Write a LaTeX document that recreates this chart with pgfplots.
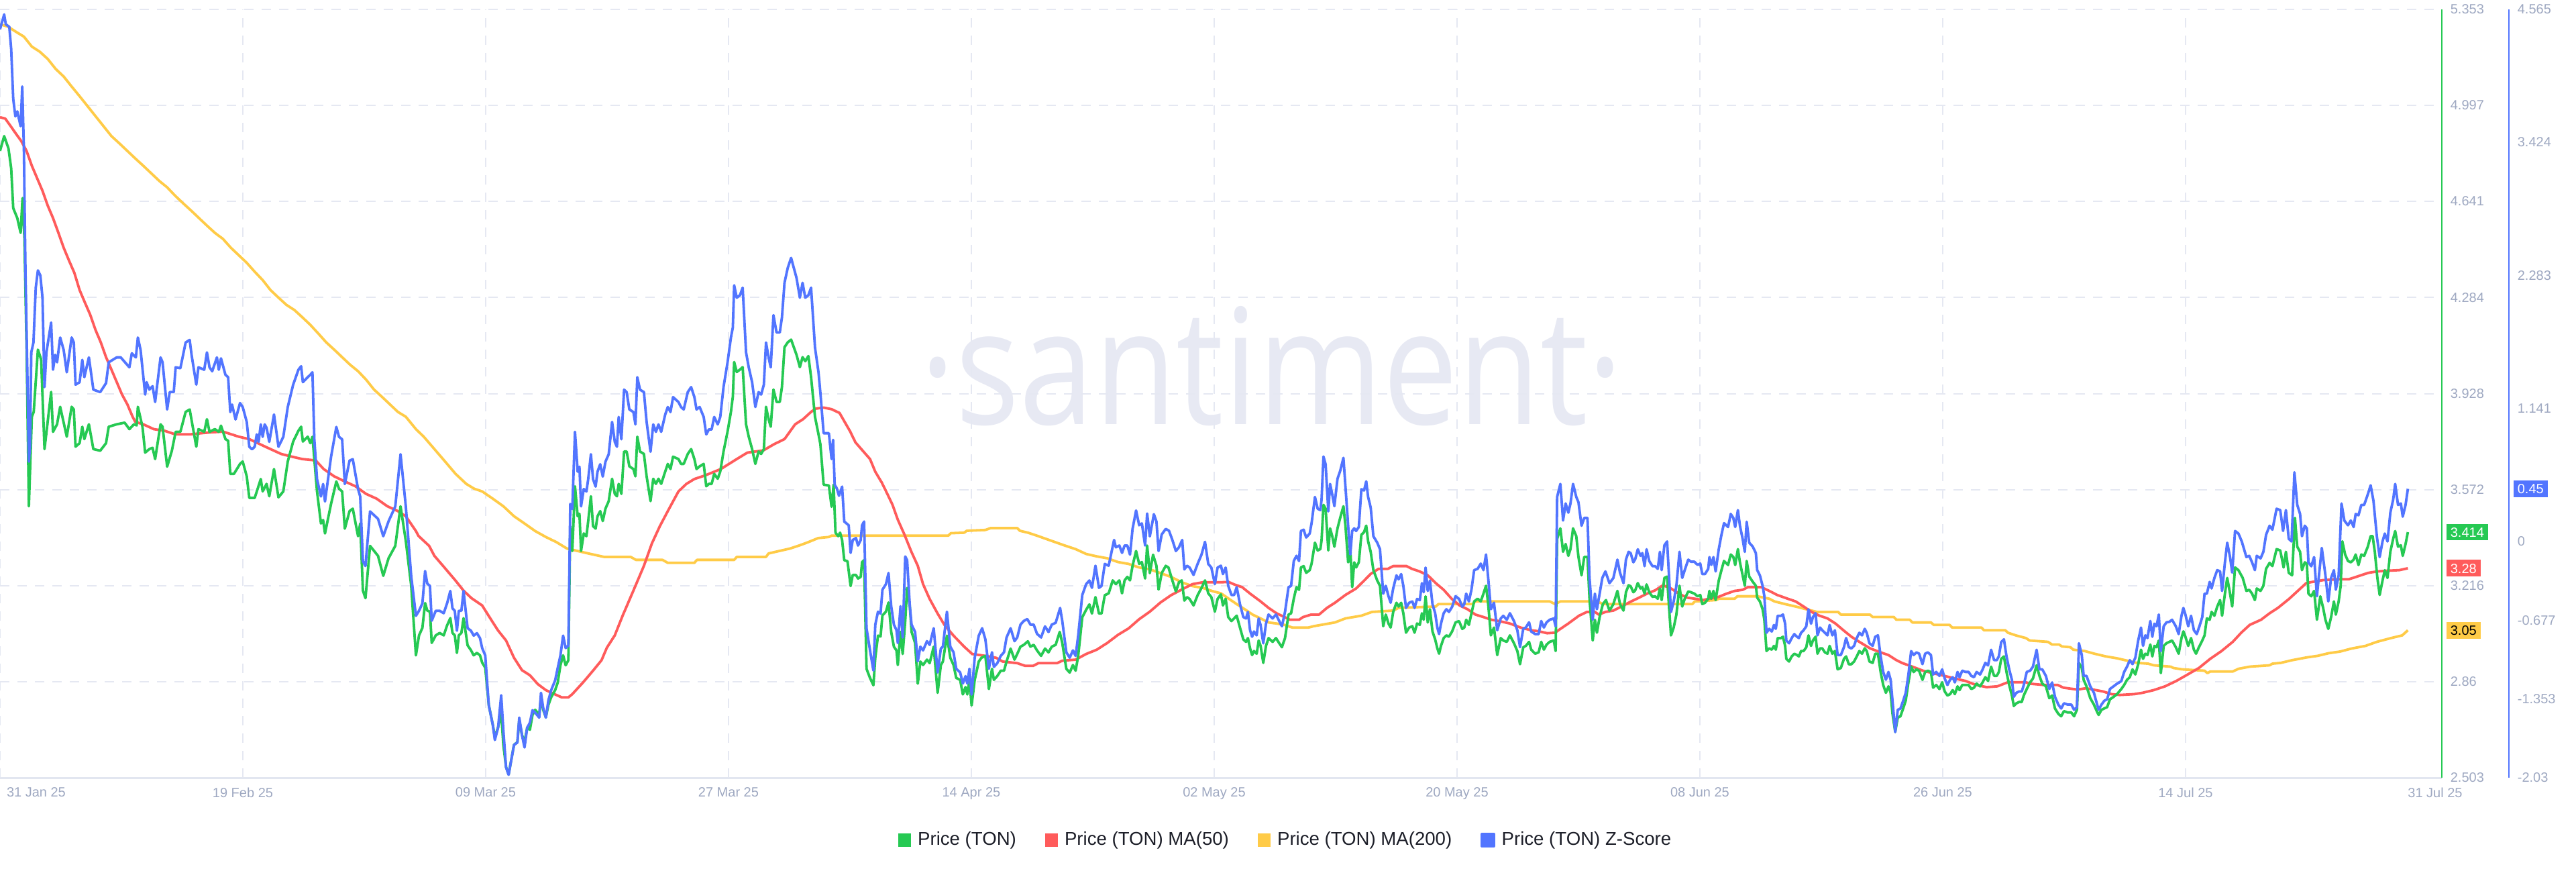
\documentclass[border=0pt]{standalone}
\usepackage{fontspec}
\setmainfont{Liberation Sans}
\newfontfamily\wmfont{Open Sans}
\usepackage{graphicx}
\usepackage{pgfplots}
\pgfplotsset{compat=1.18}
\definecolor{pgreen}{RGB}{38,201,83}
\definecolor{pred}{RGB}{255,91,91}
\definecolor{pyellow}{RGB}{255,203,71}
\definecolor{pblue}{RGB}{82,117,255}
\definecolor{tickgray}{RGB}{158,168,193}
\definecolor{gridgray}{RGB}{229,232,242}
\definecolor{axisgray}{RGB}{226,230,240}
\definecolor{wm}{RGB}{231,233,243}
\definecolor{legtext}{RGB}{28,30,40}
\newcommand\tickfont{\fontsize{5}{6}\selectfont}
\newcommand\legfont{\fontsize{6.9}{8}\selectfont}

\pgfplotstableread{
x y
0 4.828
0.31 4.883
0.63 4.837
0.83 4.763
0.98 4.616
1.28 4.579
1.53 4.524
1.67 4.653
1.81 4.505
1.97 4.100
2.14 3.510
2.36 3.842
2.50 3.860
2.81 4.091
3.05 4.054
3.30 3.722
3.79 3.934
3.93 3.786
4.23 3.814
4.46 3.879
4.95 3.768
5.31 3.879
5.47 3.869
5.60 3.731
5.90 3.744
6.10 3.805
6.25 3.759
6.59 3.814
6.92 3.722
7.43 3.716
7.86 3.744
8.06 3.805
8.65 3.814
9.24 3.820
9.59 3.796
9.93 3.814
10.13 3.810
10.22 3.879
10.56 3.805
10.76 3.709
11.07 3.722
11.31 3.727
11.50 3.685
11.90 3.814
12.05 3.805
12.39 3.657
12.74 3.716
13.02 3.786
13.37 3.786
13.76 3.860
14.06 3.869
14.55 3.731
14.71 3.796
15.14 3.786
15.34 3.833
15.53 3.786
15.93 3.796
16.22 3.786
16.38 3.809
16.71 3.759
16.91 3.753
17.07 3.630
17.34 3.630
17.79 3.667
17.99 3.676
18.29 3.621
18.48 3.541
18.88 3.541
19.33 3.611
19.47 3.565
19.76 3.593
19.96 3.547
20.31 3.648
20.64 3.543
21.00 3.565
21.33 3.676
21.73 3.750
22.12 3.790
22.32 3.805
22.45 3.750
22.81 3.768
23.00 3.744
23.16 3.768
23.50 3.565
23.79 3.446
23.95 3.459
24.09 3.409
24.54 3.519
24.93 3.602
25.13 3.575
25.36 3.565
25.56 3.427
25.91 3.492
26.15 3.501
26.54 3.399
26.70 3.446
26.90 3.197
27.09 3.169
27.43 3.363
28.02 3.326
28.41 3.252
28.80 3.317
29.30 3.363
29.69 3.510
30.08 3.381
30.48 3.215
30.83 2.957
31.06 3.031
31.31 3.059
31.51 3.151
31.67 3.123
31.87 3.119
32.00 3.003
32.30 3.031
32.59 3.040
32.89 3.031
33.14 3.068
33.38 3.095
33.54 3.040
33.71 3.031
33.87 2.966
34.01 3.031
34.20 3.040
34.36 3.095
34.66 2.994
34.91 2.976
35.11 2.957
35.35 2.966
35.58 2.957
35.74 2.930
35.97 2.911
36.23 2.773
36.53 2.699
36.68 2.653
36.92 2.690
37.15 2.745
37.31 2.625
37.51 2.543
37.70 2.515
37.90 2.570
38.10 2.625
38.35 2.635
38.49 2.718
38.69 2.662
38.88 2.635
39.08 2.690
39.28 2.681
39.47 2.736
39.67 2.755
39.97 2.736
40.10 2.801
40.26 2.755
40.46 2.727
40.65 2.773
40.85 2.801
41.15 2.828
41.34 2.856
41.54 2.920
41.74 2.957
41.93 2.920
42.13 2.939
42.27 3.436
42.42 3.344
42.62 3.584
42.82 3.473
42.95 3.482
43.07 3.344
43.27 3.409
43.47 3.399
43.60 3.455
43.80 3.547
43.96 3.436
44.15 3.427
44.29 3.473
44.49 3.492
44.68 3.455
44.88 3.501
45.12 3.529
45.37 3.612
45.57 3.556
45.73 3.547
45.86 3.593
46.06 3.556
46.26 3.713
46.45 3.713
46.65 3.658
46.95 3.648
47.10 3.621
47.24 3.768
47.44 3.713
47.73 3.704
47.93 3.621
48.22 3.529
48.42 3.612
48.62 3.593
48.81 3.612
49.01 3.593
49.31 3.639
49.50 3.667
49.70 3.648
49.89 3.694
50.29 3.685
50.48 3.667
50.68 3.667
50.98 3.704
51.23 3.722
51.47 3.685
51.63 3.648
51.86 3.658
52.16 3.667
52.35 3.584
52.55 3.593
52.75 3.593
52.94 3.630
53.20 3.612
53.39 3.639
53.63 3.713
53.93 3.787
54.18 3.860
54.32 3.916
54.42 4.045
54.61 4.008
54.85 4.017
55.05 4.026
55.30 3.814
55.50 3.768
55.75 3.722
55.99 3.667
56.23 3.713
56.42 3.704
56.62 3.722
56.78 3.879
56.97 3.833
57.13 3.805
57.33 3.943
57.56 3.897
57.80 3.897
57.96 3.952
58.15 4.100
58.39 4.118
58.64 4.128
58.84 4.100
59.04 4.072
59.29 4.026
59.49 4.063
59.69 4.048
59.92 4.067
60.12 3.989
60.41 3.842
60.67 3.777
60.81 3.740
61.05 3.590
61.44 3.587
61.64 3.508
61.79 3.590
61.93 3.412
62.13 3.399
62.27 3.412
62.42 3.385
62.58 3.310
62.82 3.306
63.05 3.214
63.21 3.255
63.45 3.255
63.60 3.242
63.80 3.248
63.90 3.303
64.05 3.310
64.23 2.907
64.49 2.873
64.74 2.846
64.88 2.948
65.08 3.030
65.27 3.027
65.41 3.105
65.67 3.119
65.86 3.153
66.06 3.044
66.26 2.989
66.45 2.975
66.55 2.921
66.75 3.044
66.91 2.962
67.10 3.085
67.24 3.207
67.44 3.139
67.57 3.044
67.83 3.003
68.03 2.852
68.22 2.934
68.42 2.921
68.71 2.941
68.91 2.928
69.21 2.989
69.50 2.818
69.74 2.921
69.89 2.934
70.19 3.030
70.44 2.948
70.68 2.921
70.88 2.873
71.17 2.866
71.37 2.812
71.57 2.839
71.70 2.812
71.86 2.866
72.02 2.771
72.25 2.866
72.55 2.934
72.75 2.948
73.04 2.955
73.30 2.832
73.53 2.907
73.67 2.866
73.92 2.880
74.18 2.900
74.42 2.900
74.61 2.934
74.91 2.982
75.20 2.941
75.40 2.962
75.64 2.989
75.89 2.996
76.19 3.009
76.38 2.989
76.62 2.996
76.87 2.975
77.17 2.955
77.46 2.982
77.72 2.968
77.96 2.989
78.25 2.996
78.55 3.044
78.74 3.003
79.04 2.907
79.29 2.893
79.53 2.921
79.73 2.900
79.92 2.955
80.22 3.098
80.51 3.126
80.75 3.146
80.94 3.112
81.20 3.173
81.46 3.112
81.65 3.112
81.89 3.180
82.18 3.187
82.48 3.235
82.71 3.221
82.97 3.235
83.17 3.187
83.36 3.235
83.56 3.248
83.76 3.235
83.95 3.289
84.21 3.344
84.44 3.296
84.64 3.303
84.88 3.242
85.03 3.364
85.23 3.262
85.47 3.330
85.72 3.289
85.88 3.201
86.11 3.262
86.41 3.289
86.61 3.283
86.90 3.235
87.16 3.194
87.39 3.228
87.59 3.235
87.79 3.160
87.98 3.173
88.18 3.166
88.47 3.142
88.77 3.180
89.06 3.207
89.32 3.235
89.56 3.187
89.79 3.173
90.05 3.119
90.25 3.166
90.50 3.183
90.65 3.142
90.85 3.167
91.04 3.099
91.28 3.084
91.67 3.104
91.91 3.060
92.16 3.016
92.36 3.007
92.50 3.021
92.66 2.983
92.81 2.958
92.95 2.973
93.15 2.963
93.30 3.012
93.44 2.992
93.64 2.929
93.84 2.992
94.03 3.021
94.33 3.007
94.58 3.021
94.82 3.002
95.02 2.987
95.25 3.021
95.51 3.108
95.70 3.113
95.90 3.167
96.10 3.210
96.29 3.200
96.43 3.283
96.63 3.288
96.82 3.263
97.08 3.273
97.22 3.297
97.47 3.375
97.67 3.346
97.87 3.351
97.96 3.384
98.10 3.515
98.26 3.501
98.46 3.346
98.59 3.428
98.75 3.399
98.91 3.360
99.14 3.428
99.34 3.467
99.58 3.510
99.73 3.438
99.93 3.302
100.09 3.351
100.23 3.210
100.38 3.302
100.52 3.283
100.72 3.302
100.91 3.404
101.11 3.414
101.27 3.438
101.41 3.380
101.60 3.341
101.80 3.273
102.09 3.234
102.29 3.215
102.53 3.065
102.72 3.108
102.92 3.075
103.08 3.060
103.27 3.118
103.51 3.152
103.67 3.138
103.86 3.152
104.02 3.113
104.22 3.041
104.45 3.060
104.69 3.065
104.85 3.041
105.04 3.075
105.24 3.070
105.40 3.113
105.53 3.089
105.67 3.176
105.83 3.079
105.99 3.128
106.18 3.046
106.38 3.016
106.54 2.983
106.67 2.963
106.81 2.992
107.01 3.021
107.21 3.031
107.40 3.026
107.64 3.046
107.89 3.079
108.15 3.084
108.39 3.055
108.54 3.060
108.68 3.089
108.88 3.070
109.07 3.113
109.27 3.157
109.53 3.167
109.76 3.157
109.96 3.186
110.15 3.215
110.31 3.147
110.51 3.031
110.74 3.060
110.98 2.958
111.24 3.021
111.43 3.012
111.69 3.007
111.92 3.031
112.22 3.002
112.47 2.973
112.67 2.924
112.91 2.987
113.10 2.992
113.34 3.007
113.50 2.978
113.79 2.963
114.05 2.968
114.24 3.007
114.44 2.978
114.64 2.997
114.87 3.007
115.17 3.012
115.31 2.973
115.42 3.389
115.66 3.428
115.86 3.341
116.05 3.370
116.25 3.326
116.41 3.351
116.60 3.428
116.84 3.399
117.00 3.322
117.23 3.254
117.43 3.322
117.67 3.322
117.82 3.167
118.06 3.012
118.22 3.089
118.37 3.041
118.57 3.099
118.81 3.147
119.04 3.162
119.30 3.123
119.59 3.147
119.89 3.196
120.08 3.147
120.34 3.123
120.52 3.191
120.72 3.217
120.87 3.213
121.07 3.191
121.21 3.198
121.40 3.225
121.60 3.205
121.74 3.210
121.90 3.186
122.05 3.220
122.25 3.191
122.49 3.174
122.68 3.176
122.88 3.167
123.04 3.205
123.17 3.162
123.37 3.244
123.57 3.249
123.70 3.147
123.86 3.031
124.06 3.060
124.26 3.108
124.49 3.215
124.69 3.138
124.88 3.167
125.14 3.194
125.34 3.191
125.59 3.186
125.83 3.176
126.03 3.181
126.18 3.147
126.38 3.152
126.62 3.167
126.71 3.196
126.85 3.167
127.01 3.196
127.17 3.162
127.40 3.234
127.60 3.273
127.79 3.307
128.09 3.292
128.29 3.331
128.48 3.322
128.62 3.292
128.82 3.351
128.97 3.302
129.17 3.254
129.33 3.215
129.47 3.307
129.66 3.249
129.92 3.230
130.15 3.215
130.25 3.171
130.45 3.157
130.65 3.128
130.78 3.089
130.94 2.973
131.14 2.983
131.33 2.978
131.49 2.992
131.63 2.978
131.77 3.021
132.02 3.021
132.16 3.026
132.32 2.992
132.41 2.944
132.61 2.934
132.81 2.953
133.00 2.963
133.20 2.958
133.34 2.953
133.50 2.973
133.69 2.973
133.89 2.987
134.05 3.031
134.24 2.992
134.38 3.012
134.58 3.026
134.72 2.963
134.91 2.983
135.07 2.983
135.27 2.968
135.46 2.963
135.62 2.992
135.82 2.963
136.01 2.973
136.21 2.905
136.45 2.910
136.68 2.944
136.84 2.953
137.04 2.924
137.23 2.924
137.43 2.934
137.63 2.953
137.82 2.973
138.02 2.963
138.22 2.983
138.37 2.973
138.57 2.934
138.81 2.929
139.00 2.963
139.20 2.963
139.40 2.895
139.59 2.847
139.79 2.818
139.98 2.842
140.14 2.818
140.28 2.740
140.48 2.673
140.67 2.726
140.87 2.731
141.07 2.760
141.26 2.789
141.46 2.857
141.66 2.915
141.85 2.895
142.05 2.905
142.25 2.900
142.50 2.866
142.70 2.895
142.90 2.900
143.13 2.895
143.29 2.837
143.52 2.847
143.76 2.832
143.96 2.857
144.15 2.823
144.35 2.808
144.55 2.813
144.74 2.828
144.90 2.813
145.10 2.842
145.25 2.828
145.45 2.847
145.69 2.847
145.92 2.847
146.12 2.832
146.32 2.837
146.51 2.852
146.77 2.842
146.96 2.857
147.16 2.876
147.36 2.862
147.59 2.915
147.81 2.881
148.01 2.881
148.16 2.895
148.34 2.944
148.54 2.953
148.73 2.895
148.93 2.847
149.13 2.808
149.27 2.769
149.46 2.779
149.66 2.784
149.86 2.784
150.01 2.808
150.23 2.832
150.48 2.857
150.69 2.871
150.96 2.920
151.17 2.881
151.38 2.852
151.65 2.842
151.90 2.798
152.11 2.808
152.32 2.760
152.57 2.740
152.78 2.731
152.99 2.750
153.26 2.745
153.53 2.745
153.74 2.731
153.95 2.755
154.10 2.929
154.31 2.910
154.45 2.866
154.66 2.842
154.94 2.798
155.21 2.774
155.42 2.750
155.56 2.736
155.77 2.755
155.98 2.760
156.19 2.765
156.40 2.794
156.67 2.803
156.92 2.813
157.24 2.832
157.45 2.847
157.66 2.866
157.87 2.876
158.07 2.905
158.28 2.886
158.49 2.924
158.70 2.978
158.85 2.944
159.02 2.963
159.18 2.958
159.39 2.997
159.54 2.953
159.69 2.992
159.85 2.987
160.02 3.012
160.17 2.891
160.38 2.992
160.59 3.002
160.80 3.007
161.00 3.012
161.28 2.987
161.49 2.963
161.70 3.021
161.84 3.046
161.99 3.026
162.20 2.992
162.41 3.021
162.62 2.978
162.78 2.963
162.99 2.987
163.24 3.012
163.41 3.031
163.58 3.094
163.79 3.089
163.93 3.118
164.14 3.104
164.35 3.138
164.56 3.162
164.71 3.104
164.92 3.186
165.09 3.244
165.30 3.186
165.46 3.138
165.67 3.283
165.92 3.273
166.24 3.244
166.51 3.196
166.72 3.200
166.93 3.186
167.14 3.162
167.28 3.205
167.56 3.196
167.77 3.215
167.97 3.278
168.23 3.300
168.44 3.288
168.75 3.351
169.02 3.346
169.27 3.283
169.44 3.341
169.65 3.263
169.90 3.254
170.11 3.467
170.28 3.360
170.49 3.341
170.63 3.273
170.84 3.302
170.99 3.297
171.11 3.186
171.32 3.176
171.53 3.196
171.74 3.089
171.99 3.176
172.20 3.133
172.37 3.089
172.58 3.055
172.79 3.099
173.00 3.157
173.14 3.108
173.35 3.157
173.50 3.215
173.62 3.380
173.83 3.331
174.04 3.307
174.25 3.302
174.46 3.312
174.61 3.331
174.82 3.292
175.03 3.331
175.24 3.326
175.51 3.360
175.72 3.399
175.87 3.399
176.03 3.341
176.22 3.244
176.39 3.181
176.60 3.234
176.77 3.273
176.97 3.244
177.18 3.341
177.39 3.389
177.54 3.418
177.75 3.360
177.96 3.365
178.10 3.326
178.31 3.370
178.48 3.414
}\price

\pgfplotstableread{
x y
0 4.953
0.39 4.948
0.79 4.920
1.18 4.892
1.57 4.865
1.97 4.828
2.36 4.773
2.75 4.727
3.15 4.680
3.54 4.625
3.93 4.579
4.33 4.524
4.72 4.469
5.11 4.422
5.51 4.376
5.90 4.312
6.29 4.266
6.69 4.220
7.08 4.164
7.47 4.118
7.86 4.063
8.26 4.017
8.65 3.971
9.04 3.925
9.44 3.888
9.83 3.842
10.03 3.823
10.62 3.814
11.01 3.805
11.40 3.796
12.19 3.790
12.98 3.777
14.16 3.777
15.34 3.783
16.52 3.787
17.70 3.768
18.48 3.759
19.66 3.731
20.84 3.704
21.63 3.694
22.41 3.685
23.40 3.680
23.99 3.648
24.77 3.621
25.56 3.602
26.35 3.584
27.13 3.556
27.92 3.538
28.71 3.510
29.49 3.492
30.08 3.473
30.83 3.418
31.02 3.400
31.81 3.363
32.20 3.326
32.99 3.280
33.77 3.234
34.36 3.197
34.95 3.169
35.74 3.142
36.33 3.095
36.92 3.049
37.51 3.012
38.10 2.948
38.69 2.902
39.28 2.883
39.87 2.850
40.46 2.828
41.24 2.810
41.64 2.801
42.13 2.801
42.42 2.813
43.21 2.856
43.99 2.902
44.59 2.939
44.98 2.985
45.57 3.031
46.16 3.105
46.95 3.197
47.73 3.289
48.32 3.372
48.91 3.436
49.50 3.492
50.29 3.565
50.88 3.593
51.47 3.611
52.25 3.624
53.43 3.648
54.61 3.685
55.40 3.709
56.58 3.717
57.37 3.740
58.15 3.759
58.94 3.814
59.53 3.833
60.12 3.860
60.46 3.872
61.05 3.876
61.64 3.870
62.23 3.856
62.62 3.822
63.01 3.788
63.41 3.747
64.00 3.713
64.49 3.685
64.88 3.638
65.37 3.597
65.77 3.556
66.16 3.515
66.55 3.460
67.04 3.405
67.53 3.344
68.03 3.289
68.42 3.221
68.91 3.166
69.50 3.112
69.99 3.071
70.68 3.030
71.47 2.989
72.06 2.962
73.04 2.955
73.83 2.948
74.32 2.934
75.40 2.928
75.99 2.918
76.58 2.918
76.97 2.928
78.35 2.928
78.74 2.937
79.73 2.941
80.51 2.962
81.30 2.978
82.08 3.003
82.87 3.033
83.66 3.057
84.44 3.091
85.23 3.119
86.02 3.153
86.80 3.180
87.59 3.201
88.38 3.221
89.16 3.228
90.50 3.228
91.08 3.229
91.48 3.220
92.07 3.210
92.66 3.186
93.44 3.157
94.03 3.133
94.62 3.113
95.21 3.099
95.61 3.089
96.29 3.089
96.59 3.099
97.18 3.108
97.77 3.108
98.36 3.133
98.95 3.152
99.73 3.181
100.52 3.205
101.11 3.234
101.60 3.259
102.19 3.278
102.88 3.278
103.27 3.288
104.26 3.288
104.65 3.278
105.24 3.268
105.83 3.254
106.42 3.225
107.01 3.200
107.60 3.167
108.19 3.142
108.78 3.128
109.37 3.108
109.96 3.099
110.55 3.089
111.14 3.084
111.92 3.075
112.71 3.060
113.50 3.050
114.09 3.046
114.68 3.039
115.27 3.041
115.66 3.055
116.25 3.075
117.04 3.104
117.63 3.118
118.22 3.118
118.51 3.108
119.00 3.118
119.59 3.123
120.34 3.142
120.91 3.157
121.50 3.171
122.09 3.186
122.68 3.198
123.27 3.217
123.86 3.205
124.45 3.186
125.04 3.171
125.63 3.167
126.22 3.162
126.81 3.168
127.40 3.174
127.99 3.186
128.58 3.196
129.17 3.200
129.56 3.210
130.55 3.210
131.14 3.196
131.73 3.181
132.51 3.167
133.10 3.157
133.69 3.138
134.28 3.118
134.87 3.104
135.46 3.094
136.05 3.075
136.64 3.050
137.23 3.026
137.82 3.007
138.61 2.983
139.40 2.968
139.98 2.958
140.57 2.939
140.97 2.929
141.75 2.915
142.54 2.900
143.33 2.890
144.11 2.881
144.90 2.871
145.69 2.862
146.47 2.847
147.26 2.839
148.05 2.842
148.83 2.857
150.17 2.857
150.44 2.852
151.48 2.847
152.53 2.847
152.95 2.837
153.99 2.830
154.62 2.835
155.88 2.823
156.51 2.813
157.13 2.810
158.18 2.813
158.81 2.818
159.64 2.828
160.48 2.842
161.32 2.862
162.16 2.886
162.99 2.910
163.83 2.944
164.67 2.973
165.50 3.007
166.13 3.041
166.76 3.070
167.60 3.089
168.23 3.113
168.85 3.133
169.69 3.167
170.32 3.196
170.95 3.225
171.37 3.229
172.20 3.236
173.25 3.239
174.09 3.239
174.71 3.249
175.55 3.263
176.18 3.268
177.02 3.271
177.85 3.273
178.48 3.280
}\maf

\pgfplotstableread{
x y
0 5.298
0.59 5.289
1.18 5.270
1.77 5.252
2.36 5.215
2.95 5.196
3.54 5.169
4.13 5.132
4.72 5.104
5.31 5.067
5.90 5.031
6.49 4.994
7.08 4.957
7.67 4.920
8.26 4.883
8.85 4.856
9.44 4.828
10.03 4.800
10.62 4.773
11.21 4.745
11.80 4.717
12.39 4.693
12.98 4.662
13.57 4.634
14.16 4.607
14.75 4.579
15.34 4.551
15.93 4.524
16.52 4.502
17.11 4.469
17.70 4.441
18.29 4.413
18.88 4.380
19.47 4.349
20.05 4.312
20.64 4.284
21.23 4.257
21.82 4.238
22.41 4.211
23.00 4.183
23.59 4.151
24.18 4.118
24.77 4.091
25.36 4.063
25.95 4.035
26.54 4.011
27.13 3.980
27.72 3.943
28.31 3.916
28.90 3.888
29.49 3.860
30.08 3.842
30.83 3.796
31.41 3.768
32.20 3.722
32.99 3.676
33.77 3.630
34.56 3.593
35.15 3.575
35.74 3.565
36.53 3.538
37.31 3.510
38.10 3.473
38.88 3.446
39.67 3.418
40.46 3.396
41.24 3.377
42.03 3.353
42.82 3.344
43.60 3.335
44.78 3.322
46.75 3.322
47.14 3.311
49.11 3.311
49.50 3.300
51.47 3.300
51.66 3.311
54.42 3.311
54.61 3.322
56.78 3.322
56.97 3.335
57.76 3.344
58.55 3.353
59.33 3.366
59.92 3.377
60.65 3.392
61.44 3.396
61.64 3.401
70.29 3.401
70.48 3.410
71.47 3.412
71.66 3.419
73.04 3.422
73.43 3.429
75.40 3.429
75.60 3.419
76.19 3.412
76.97 3.399
78.15 3.378
78.94 3.364
79.73 3.351
80.51 3.333
81.30 3.324
82.08 3.317
82.87 3.303
83.66 3.296
84.44 3.283
85.23 3.276
86.02 3.262
86.80 3.248
87.59 3.228
88.38 3.214
89.16 3.207
89.95 3.194
90.50 3.187
91.08 3.167
91.67 3.147
92.26 3.128
92.85 3.108
93.44 3.094
94.03 3.079
94.62 3.075
95.21 3.070
95.80 3.060
96.98 3.060
97.37 3.065
98.95 3.079
99.73 3.094
100.91 3.104
101.70 3.118
103.27 3.123
103.67 3.133
106.42 3.138
106.62 3.147
109.17 3.147
109.37 3.157
114.87 3.157
115.27 3.147
115.66 3.157
118.41 3.157
118.81 3.147
125.44 3.147
125.63 3.157
127.20 3.162
127.40 3.167
128.58 3.167
128.78 3.176
130.25 3.176
131.14 3.167
131.53 3.157
132.32 3.147
133.10 3.138
133.89 3.128
134.68 3.118
136.25 3.118
136.45 3.108
138.61 3.108
138.81 3.099
140.38 3.099
140.57 3.089
141.56 3.089
141.75 3.079
143.13 3.079
143.33 3.070
144.51 3.070
144.70 3.060
146.87 3.060
147.06 3.050
148.64 3.050
148.83 3.041
149.42 3.031
150.17 3.021
150.44 3.012
151.80 3.007
152.11 2.997
152.63 2.997
152.84 2.990
153.47 2.987
153.68 2.978
154.52 2.973
155.25 2.963
156.09 2.953
156.92 2.946
158.39 2.929
159.23 2.926
159.64 2.920
160.90 2.915
161.11 2.910
161.74 2.905
163.41 2.900
163.62 2.891
163.83 2.897
165.50 2.897
165.92 2.907
166.76 2.915
168.23 2.920
168.44 2.926
169.06 2.929
169.90 2.939
170.95 2.949
171.78 2.955
172.62 2.965
173.46 2.971
174.29 2.982
175.34 2.992
176.18 3.007
177.23 3.021
178.06 3.031
178.48 3.050
}\mab

\pgfplotstableread{
x y
0 4.394
0.31 4.522
0.43 4.437
0.69 4.415
0.83 4.223
0.98 3.797
1.14 3.647
1.28 3.690
1.53 3.562
1.65 3.903
1.77 3.370
1.89 2.304
2.06 1.237
2.14 0.683
2.22 0.811
2.32 1.621
2.48 1.706
2.65 2.176
2.81 2.325
2.99 2.282
3.15 2.090
3.30 1.323
3.44 1.621
3.79 1.877
3.93 1.472
4.09 1.600
4.23 1.536
4.46 1.749
4.72 1.642
4.95 1.450
5.31 1.749
5.47 1.706
5.60 1.344
5.90 1.365
6.10 1.557
6.25 1.408
6.59 1.578
6.92 1.301
7.43 1.280
7.86 1.357
8.06 1.536
8.65 1.578
8.95 1.578
9.59 1.493
9.77 1.613
10.07 1.578
10.22 1.749
10.42 1.642
10.76 1.259
10.87 1.365
11.07 1.301
11.31 1.331
11.50 1.195
11.90 1.578
12.05 1.536
12.39 1.131
12.58 1.280
12.88 1.280
13.02 1.493
13.37 1.485
13.76 1.706
14.06 1.728
14.20 1.600
14.55 1.344
14.71 1.493
15.14 1.472
15.34 1.621
15.53 1.493
15.73 1.459
16.08 1.578
16.22 1.472
16.38 1.570
16.71 1.429
16.91 1.408
17.07 1.109
17.20 1.173
17.46 1.045
17.79 1.186
17.99 1.152
18.29 1.024
18.48 0.811
18.68 0.789
18.88 0.811
19.03 0.917
19.17 0.853
19.33 1.003
19.47 0.896
19.62 1.003
19.76 0.973
19.96 0.853
20.31 1.088
20.64 0.811
21.00 0.896
21.33 1.152
21.73 1.344
22.12 1.472
22.32 1.502
22.45 1.365
22.81 1.408
23.00 1.429
23.16 1.450
23.30 0.875
23.50 0.533
23.79 0.384
23.95 0.491
24.09 0.341
24.54 0.725
24.93 0.981
25.13 0.896
25.36 0.875
25.56 0.491
25.91 0.692
26.15 0.704
26.54 0.448
26.70 0.384
26.90 -0.171
27.09 -0.213
27.43 0.256
28.02 0.192
28.41 0.043
28.80 0.171
29.30 0.299
29.69 0.747
30.08 0.299
30.48 -0.299
30.83 -0.640
31.06 -0.597
31.31 -0.533
31.51 -0.256
31.67 -0.363
31.87 -0.384
32.00 -0.683
32.30 -0.597
32.59 -0.597
32.89 -0.618
33.14 -0.533
33.38 -0.427
33.54 -0.576
33.71 -0.597
33.87 -0.768
34.01 -0.597
34.20 -0.597
34.36 -0.427
34.66 -0.746
34.91 -0.768
35.11 -0.810
35.35 -0.789
35.58 -0.832
35.74 -0.917
35.97 -0.981
36.23 -1.408
36.53 -1.578
36.68 -1.706
36.92 -1.600
37.15 -1.322
37.31 -1.621
37.51 -1.941
37.70 -2.005
37.90 -1.877
38.10 -1.749
38.35 -1.728
38.49 -1.514
38.69 -1.664
38.88 -1.770
39.08 -1.600
39.28 -1.557
39.47 -1.450
39.67 -1.472
39.97 -1.514
40.10 -1.301
40.26 -1.429
40.46 -1.514
40.65 -1.365
40.85 -1.280
41.15 -1.194
41.34 -1.088
41.54 -0.981
41.74 -0.810
41.93 -0.917
42.13 -0.896
42.27 0.320
42.42 0.277
42.62 0.939
42.82 0.597
42.95 0.640
43.07 0.299
43.27 0.448
43.47 0.427
43.60 0.533
43.80 0.747
43.96 0.533
44.15 0.469
44.29 0.597
44.49 0.661
44.68 0.555
44.88 0.683
45.12 0.747
45.37 1.024
45.57 0.853
45.73 0.811
45.86 1.067
46.06 0.875
46.26 1.301
46.45 1.280
46.65 1.131
46.95 1.109
47.10 1.003
47.24 1.408
47.44 1.301
47.73 1.280
47.93 1.024
48.22 0.768
48.42 1.003
48.62 0.939
48.81 1.003
49.01 0.939
49.31 1.088
49.50 1.152
49.70 1.109
49.89 1.237
50.29 1.195
50.48 1.152
50.68 1.131
50.98 1.280
51.23 1.323
51.47 1.237
51.63 1.131
51.86 1.152
52.16 1.067
52.35 0.917
52.55 0.960
52.75 0.960
52.94 1.067
53.20 1.003
53.39 1.067
53.63 1.323
53.93 1.536
54.18 1.749
54.32 1.834
54.42 2.197
54.61 2.090
54.85 2.112
55.05 2.176
55.30 1.621
55.50 1.493
55.75 1.365
55.99 1.152
56.23 1.280
56.42 1.259
56.62 1.344
56.78 1.706
56.97 1.578
57.13 1.493
57.33 1.941
57.56 1.792
57.80 1.792
57.96 1.920
58.15 2.218
58.39 2.346
58.64 2.432
58.84 2.346
59.04 2.261
59.29 2.090
59.49 2.218
59.69 2.090
59.92 2.112
60.12 2.176
60.41 1.664
60.67 1.450
60.81 1.275
61.05 0.927
61.44 0.927
61.64 0.706
61.75 0.870
61.87 0.485
62.03 0.453
62.19 0.390
62.42 0.469
62.58 0.169
62.91 0.137
63.05 -0.100
63.21 0.011
63.45 0.027
63.60 -0.037
63.80 0.011
63.90 0.137
64.05 0.169
64.23 -0.747
64.49 -0.937
64.74 -1.110
64.88 -0.716
65.08 -0.605
65.27 -0.621
65.41 -0.416
65.67 -0.368
65.86 -0.273
66.06 -0.558
66.26 -0.716
66.45 -0.763
66.55 -0.874
66.75 -0.558
66.91 -0.826
67.10 -0.131
67.24 -0.163
67.44 -0.558
67.57 -0.716
67.83 -0.779
68.03 -1.031
68.22 -0.905
68.42 -0.937
68.71 -0.858
68.91 -0.890
69.21 -0.747
69.50 -1.126
69.74 -0.921
69.89 -0.905
70.19 -0.605
70.44 -0.905
70.68 -0.953
70.88 -1.095
71.17 -1.126
71.37 -1.221
71.57 -1.158
71.70 -1.221
71.86 -1.095
72.02 -1.316
72.25 -1.000
72.55 -0.810
72.80 -0.747
73.04 -0.842
73.30 -1.095
73.53 -0.953
73.67 -1.079
73.92 -1.047
74.18 -0.984
74.42 -0.953
74.61 -0.826
74.91 -0.747
75.20 -0.858
75.40 -0.826
75.64 -0.716
75.89 -0.684
76.15 -0.668
76.38 -0.716
76.62 -0.716
76.87 -0.795
77.17 -0.826
77.46 -0.731
77.72 -0.779
77.96 -0.716
78.25 -0.700
78.58 -0.573
78.74 -0.684
79.04 -0.953
79.29 -1.000
79.53 -0.937
79.73 -0.984
79.92 -0.810
80.22 -0.463
80.51 -0.368
80.75 -0.337
80.94 -0.400
81.20 -0.210
81.46 -0.400
81.65 -0.384
81.89 -0.195
82.18 -0.210
82.58 0.011
82.71 -0.052
82.97 -0.037
83.17 -0.100
83.36 -0.037
83.56 -0.037
83.76 -0.115
83.95 0.106
84.21 0.264
84.44 0.137
84.64 0.153
84.88 -0.037
85.03 0.238
85.23 0.042
85.53 0.232
85.72 0.169
85.88 -0.084
86.11 0.058
86.41 0.106
86.65 0.090
86.90 0.011
87.16 -0.084
87.39 -0.052
87.63 0.011
87.79 -0.242
87.98 -0.210
88.18 -0.226
88.47 -0.289
88.77 -0.195
89.06 -0.115
89.32 -0.005
89.56 -0.195
89.79 -0.226
90.05 -0.368
90.25 -0.226
90.50 -0.210
90.65 -0.282
90.85 -0.226
91.04 -0.383
91.28 -0.461
91.48 -0.461
91.67 -0.394
91.91 -0.539
92.16 -0.651
92.36 -0.663
92.50 -0.607
92.66 -0.764
92.81 -0.820
92.95 -0.775
93.15 -0.808
93.30 -0.663
93.44 -0.719
93.64 -0.876
93.84 -0.708
94.03 -0.629
94.33 -0.663
94.58 -0.629
94.82 -0.685
95.02 -0.730
95.25 -0.607
95.51 -0.394
95.70 -0.383
95.90 -0.170
96.10 -0.125
96.29 -0.170
96.43 0.088
96.63 0.099
96.82 0.032
97.08 0.066
97.22 0.155
97.47 0.380
97.67 0.279
97.87 0.267
97.96 0.357
98.10 0.727
98.26 0.660
98.46 0.256
98.59 0.492
98.75 0.402
98.91 0.301
99.14 0.536
99.34 0.604
99.58 0.716
99.73 0.469
99.93 0.133
100.09 -0.114
100.23 0.088
100.38 0.111
100.52 0.088
100.72 0.122
100.91 0.447
101.11 0.436
101.27 0.514
101.41 0.380
101.60 0.290
101.80 0.043
102.09 -0.013
102.29 -0.069
102.53 -0.450
102.72 -0.383
102.92 -0.472
103.08 -0.528
103.27 -0.405
103.51 -0.293
103.67 -0.327
103.86 -0.282
104.02 -0.383
104.22 -0.573
104.45 -0.528
104.69 -0.517
104.85 -0.573
105.04 -0.495
105.24 -0.506
105.40 -0.360
105.53 -0.438
105.67 -0.226
105.83 -0.427
105.99 -0.338
106.18 -0.539
106.38 -0.618
106.54 -0.741
106.67 -0.797
106.81 -0.708
107.01 -0.618
107.21 -0.584
107.40 -0.607
107.64 -0.562
107.89 -0.472
108.15 -0.495
108.39 -0.562
108.54 -0.539
108.68 -0.450
108.88 -0.517
109.07 -0.416
109.27 -0.248
109.53 -0.237
109.76 -0.192
109.96 -0.248
110.15 -0.114
110.31 -0.315
110.51 -0.584
110.74 -0.528
110.98 -0.764
111.24 -0.663
111.43 -0.640
111.69 -0.674
111.92 -0.618
112.22 -0.685
112.47 -0.764
112.67 -0.909
112.91 -0.752
113.10 -0.741
113.34 -0.696
113.50 -0.775
113.79 -0.797
114.05 -0.797
114.24 -0.685
114.44 -0.741
114.64 -0.696
114.87 -0.674
115.17 -0.663
115.31 -0.730
115.42 0.380
115.66 0.492
115.86 0.178
116.05 0.324
116.25 0.245
116.41 0.324
116.60 0.492
116.84 0.380
117.00 0.335
117.23 0.133
117.43 0.200
117.67 0.200
117.82 -0.315
118.06 -0.674
118.22 -0.450
118.37 -0.584
118.57 -0.450
118.77 -0.315
119.00 -0.259
119.30 -0.360
119.59 -0.315
119.89 -0.158
120.08 -0.270
120.34 -0.360
120.52 -0.158
120.72 -0.091
120.87 -0.102
121.07 -0.181
121.21 -0.154
121.40 -0.069
121.60 -0.125
121.74 -0.102
121.90 -0.214
122.05 -0.069
122.25 -0.170
122.49 -0.214
122.68 -0.214
122.88 -0.237
123.04 -0.091
123.17 -0.248
123.37 -0.035
123.57 -0.002
123.70 -0.270
123.86 -0.607
124.06 -0.517
124.26 -0.383
124.49 -0.091
124.69 -0.315
124.88 -0.248
125.14 -0.158
125.34 -0.176
125.59 -0.176
125.83 -0.203
126.03 -0.192
126.18 -0.282
126.38 -0.282
126.62 -0.237
126.71 -0.136
126.85 -0.203
127.01 -0.136
127.17 -0.259
127.40 -0.069
127.60 0.055
127.79 0.155
128.09 0.122
128.29 0.234
128.48 0.200
128.62 0.122
128.82 0.267
128.97 0.133
129.17 0.021
129.33 -0.091
129.47 0.167
129.66 -0.013
129.92 -0.046
130.15 -0.102
130.25 -0.248
130.45 -0.293
130.65 -0.383
130.78 -0.472
130.94 -0.786
131.14 -0.752
131.33 -0.775
131.49 -0.719
131.63 -0.752
131.77 -0.640
132.02 -0.640
132.16 -0.629
132.32 -0.708
132.41 -0.853
132.61 -0.876
132.81 -0.831
133.00 -0.797
133.20 -0.820
133.34 -0.831
133.50 -0.786
133.69 -0.764
133.89 -0.730
134.05 -0.584
134.24 -0.708
134.38 -0.651
134.58 -0.618
134.72 -0.808
134.91 -0.741
135.07 -0.764
135.27 -0.786
135.46 -0.808
135.62 -0.719
135.82 -0.808
136.01 -0.764
136.21 -0.977
136.45 -0.977
136.68 -0.909
136.84 -0.831
137.04 -0.909
137.23 -0.920
137.43 -0.898
137.63 -0.831
137.82 -0.786
138.02 -0.808
138.22 -0.752
138.37 -0.786
138.57 -0.876
138.81 -0.898
139.00 -0.820
139.20 -0.808
139.40 -0.988
139.59 -1.122
139.79 -1.189
139.98 -1.122
140.14 -1.189
140.28 -1.369
140.48 -1.638
140.67 -1.447
140.87 -1.436
141.07 -1.369
141.26 -1.301
141.46 -1.144
141.66 -0.943
141.85 -0.977
142.05 -0.954
142.25 -0.965
142.50 -1.055
142.70 -0.965
142.90 -0.954
143.13 -0.977
143.29 -1.144
143.52 -1.122
143.76 -1.156
143.96 -1.100
144.15 -1.178
144.35 -1.234
144.55 -1.189
144.74 -1.167
144.90 -1.212
145.10 -1.122
145.25 -1.167
145.45 -1.111
145.69 -1.122
145.92 -1.122
146.12 -1.156
146.32 -1.167
146.51 -1.122
146.77 -1.144
146.96 -1.100
147.16 -1.044
147.36 -1.066
147.59 -0.932
147.81 -1.021
148.01 -1.021
148.16 -0.988
148.34 -0.865
148.54 -0.842
148.73 -0.988
148.93 -1.100
149.13 -1.189
149.27 -1.335
149.46 -1.301
149.66 -1.290
149.86 -1.290
150.01 -1.234
150.23 -1.122
150.48 -1.111
150.69 -1.077
150.96 -0.932
151.17 -1.100
151.38 -1.100
151.65 -1.156
151.90 -1.268
152.11 -1.212
152.32 -1.335
152.57 -1.402
152.78 -1.436
152.99 -1.391
153.26 -1.402
153.53 -1.402
153.74 -1.447
153.95 -1.425
154.10 -0.876
154.31 -0.977
154.45 -1.156
154.66 -1.156
154.94 -1.245
155.21 -1.301
155.42 -1.391
155.56 -1.447
155.77 -1.402
155.98 -1.369
156.19 -1.357
156.40 -1.268
156.67 -1.245
156.92 -1.223
157.24 -1.201
157.45 -1.122
157.66 -1.077
157.87 -1.021
158.07 -1.055
158.28 -0.999
158.49 -0.853
158.70 -0.741
158.85 -0.898
159.02 -0.808
159.18 -0.831
159.39 -0.685
159.54 -0.820
159.69 -0.708
159.85 -0.730
160.02 -0.629
160.17 -0.943
160.38 -0.730
160.59 -0.696
160.80 -0.692
161.00 -0.674
161.28 -0.730
161.49 -0.797
161.70 -0.640
161.84 -0.573
161.99 -0.629
162.20 -0.730
162.41 -0.640
162.62 -0.764
162.83 -0.797
163.03 -0.730
163.24 -0.651
163.41 -0.450
163.58 -0.450
163.79 -0.349
163.93 -0.405
164.14 -0.315
164.35 -0.248
164.56 -0.259
164.71 -0.427
164.92 -0.181
165.09 -0.013
165.30 -0.136
165.46 -0.270
165.67 0.088
165.92 0.066
166.17 -0.002
166.51 -0.136
166.72 -0.125
166.93 -0.181
167.14 -0.248
167.28 -0.125
167.56 -0.147
167.77 -0.091
167.97 0.055
168.23 0.133
168.44 0.099
168.75 0.279
169.02 0.267
169.23 0.088
169.44 0.267
169.65 0.021
169.86 -0.002
170.07 0.592
170.28 0.312
170.49 0.234
170.63 0.043
170.84 0.133
170.99 0.111
171.11 -0.181
171.32 -0.215
171.53 -0.136
171.74 -0.472
171.89 -0.293
172.10 -0.058
172.37 -0.293
172.58 -0.517
172.79 -0.315
173.00 -0.248
173.14 -0.416
173.35 -0.293
173.56 0.324
173.77 0.178
174.04 0.137
174.25 0.178
174.46 0.122
174.61 0.234
174.82 0.223
175.03 0.312
175.24 0.312
175.51 0.402
175.72 0.480
175.93 0.346
176.18 0.043
176.39 -0.136
176.60 -0.002
176.77 0.066
176.97 -0.002
177.18 0.245
177.39 0.357
177.54 0.492
177.75 0.312
177.96 0.324
178.10 0.211
178.31 0.312
178.48 0.450
}\zscore

\begin{document}
\begin{tikzpicture}
\path[use as bounding box] (0pt,-35.25pt) rectangle (960pt,289.75pt);
\node[anchor=base, inner sep=0pt, text=wm] at (473.9pt,131.75pt)
  {\scalebox{1}[1.2]{\wmfont\fontsize{50}{50}\selectfont ·santiment·}};
\begin{axis}[
  width=910pt, height=286.25pt, scale only axis,
  xmin=0, xmax=181, ymin=2.503, ymax=5.353,
  axis x line*=bottom, axis y line*=right,
  axis line style={-},
  x axis line style={draw=axisgray, line width=0.75pt},
  y axis line style={draw=pgreen, line width=0.5pt},
  tick style={draw=none},
  xtick={0,18,36,54,72,90,108,126,144,162},
  xticklabels={\makebox[0pt][l]{\hspace{2.5pt}31 Jan 25},19 Feb 25,09 Mar 25,27 Mar 25,14 Apr 25,02 May 25,20 May 25,08 Jun 25,26 Jun 25,14 Jul 25},
  extra x ticks={180.5}, extra x tick labels={31 Jul 25},
  extra x tick style={grid=none},
  xmajorgrids, ymajorgrids,
  major grid style={draw=gridgray, line width=0.5pt, dash pattern=on 3.5pt off 3pt},
  ytick={2.503,2.86,3.216,3.572,3.928,4.284,4.641,4.997,5.353},
  yticklabels={2.503,2.86,3.216,3.572,3.928,4.284,4.641,4.997,5.353},
  ticklabel style={font=\tickfont, text=tickgray},
  xticklabel style={anchor=north, inner sep=0pt, yshift=-3.5pt},
  yticklabel style={anchor=west, inner sep=0pt, xshift=3pt},
  clip=false,
  every axis plot/.append style={line width=0.95pt, line join=round},
]
\addplot[color=pyellow, no markers] table[x=x,y=y] {\mab};
\addplot[color=pred, no markers] table[x=x,y=y] {\maf};
\addplot[color=pgreen, no markers] table[x=x,y=y] {\price};
\node[fill=pgreen, text=white, anchor=west, font=\tickfont, inner xsep=1.5pt, inner ysep=1.3pt, text height=3.6pt, text depth=0pt, xshift=1.5pt] at (axis cs:181,3.414) {3.414};
\node[fill=pred, text=white, anchor=west, font=\tickfont, inner xsep=1.5pt, inner ysep=1.3pt, text height=3.6pt, text depth=0pt, xshift=1.5pt] at (axis cs:181,3.28) {3.28};
\node[fill=pyellow, text=black, anchor=west, font=\tickfont, inner xsep=1.5pt, inner ysep=1.3pt, text height=3.6pt, text depth=0pt, xshift=1.5pt] at (axis cs:181,3.05) {3.05};
\end{axis}
\begin{axis}[
  width=910pt, height=286.25pt, scale only axis,
  xmin=0, xmax=181, ymin=-2.03, ymax=4.565,
  axis x line=none, axis y line*=right,
  axis line style={-},
  y axis line style={draw=none},
  tick style={draw=none},
  ytick={-2.03,-1.353,-0.677,0,1.141,2.283,3.424,4.565},
  yticklabels={-2.03,-1.353,-0.677,0,1.141,2.283,3.424,4.565},
  ticklabel style={font=\tickfont, text=tickgray},
  yticklabel style={anchor=west, inner sep=0pt, xshift=28pt},
  clip=false,
  legend columns=4,
  legend style={at={(0.5275,-0.0812)}, anchor=center, draw=none, fill=none,
    font=\legfont, text=legtext, inner sep=0pt,
    nodes={inner xsep=2.5pt, inner ysep=0pt},
    /tikz/every odd column/.append style={column sep=0pt},
    /tikz/every even column/.append style={column sep=8.25pt}},
  legend image code/.code={\fill[#1] (0pt,-2.25pt) rectangle (4.4pt,2.25pt);},
]
\draw[pblue, line width=0.5pt] ([xshift=25pt]rel axis cs:1,0) -- ([xshift=25pt]rel axis cs:1,1);
\addlegendimage{color=pgreen}
\addlegendentry{Price (TON)}
\addlegendimage{color=pred}
\addlegendentry{Price (TON) MA(50)}
\addlegendimage{color=pyellow}
\addlegendentry{Price (TON) MA(200)}
\addplot[color=pblue, no markers, line width=0.95pt, line join=round] table[x=x,y=y] {\zscore};
\addlegendentry{Price (TON) Z-Score}
\node[fill=pblue, text=white, anchor=west, font=\tickfont, inner xsep=1.5pt, inner ysep=1.3pt, text height=3.6pt, text depth=0pt, xshift=26.5pt] at (axis cs:181,0.45) {0.45};
\end{axis}
\end{tikzpicture}
\end{document}
